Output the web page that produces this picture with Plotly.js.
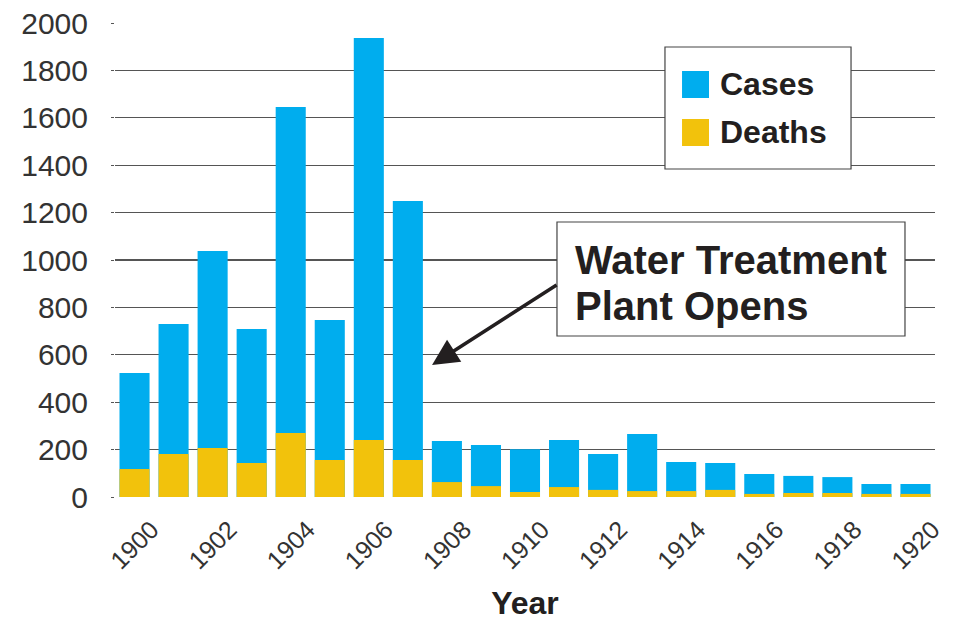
<!DOCTYPE html>
<html>
<head>
<meta charset="utf-8">
<script src="https://cdn.plot.ly/plotly-3.0.1.min.js"></script>
<style>html,body{margin:0;padding:0;background:#fff;}#chart{width:956px;height:621px;}</style>
</head>
<body>
<div id="chart"></div>
<script>
const years = [1900,1901,1902,1903,1904,1905,1906,1907,1908,1909,1910,1911,1912,1913,1914,1915,1916,1917,1918,1919,1920];
const cases = [523,730,1038,709,1646,747,1937,1249,236,219,202,240,181,266,148,143,97,89,84,55,55];
const deaths = [118,181,207,143,270,156,240,156,63,46,21,42,30,25,25,30,13,17,17,13,13];
const tickYears = [1900,1902,1904,1906,1908,1910,1912,1914,1916,1918,1920];
const legendLabels = ['Cases','Deaths'];
const noteLines = ['Water Treatment','Plant Opens'];
const noteTarget = {year: 1907.62, value: 557};

const cCases = '#00ADEE';
const cDeaths = '#F2C20C';
const ink = '#231F20';
const fontFam = '"Liberation Sans", Arial, Helvetica, sans-serif';

const traces = [
  {type:'bar', x: years, y: cases, name: legendLabels[0], marker:{color:cCases}, width:0.77, hoverinfo:'x+y'},
  {type:'bar', x: years, y: deaths, name: legendLabels[1], marker:{color:cDeaths}, width:0.77, hoverinfo:'x+y'}
];

const layout = {
  width:956, height:621,
  margin:{l:115, r:21, t:23, b:124},
  paper_bgcolor:'#fff', plot_bgcolor:'#fff',
  barmode:'overlay',
  showlegend:false,
  font:{family:fontFam, color:ink},
  xaxis:{
    range:[1899.5,1920.5],
    tickvals: tickYears,
    ticktext: tickYears.map(String),
    tickangle:-45,
    tickfont:{size:25, color:'#333'},
    ticklabelshift:17,
    ticklabelstandoff:12,
    showgrid:false, zeroline:false, showline:false, ticks:'',
    title:{text:'<b>Year</b>', font:{size:32, color:ink}, standoff:22}
  },
  yaxis:{
    range:[0,2000],
    tickvals:[0,200,400,600,800,1000,1200,1400,1600,1800,2000],
    tickfont:{size:30, color:'#333'},
    showgrid:true, gridcolor:'#555', gridwidth:1.2,
    zeroline:false, showline:false,
    ticks:'outside', ticklen:3, tickcolor:'#555',
    ticklabelstandoff:17
  },
  shapes:[
    {type:'rect', xref:'paper', yref:'paper', x0:0.6707, x1:0.8976, y0:0.692, y1:0.9494, line:{color:'#444', width:1.2}, fillcolor:'#fff', layer:'above'},
    {type:'rect', xref:'paper', yref:'paper', x0:0.6915, x1:0.7244, y0:0.8418, y1:0.8987, line:{width:0}, fillcolor:cCases, layer:'above'},
    {type:'rect', xref:'paper', yref:'paper', x0:0.6915, x1:0.7244, y0:0.7405, y1:0.7975, line:{width:0}, fillcolor:cDeaths, layer:'above'},
    {type:'rect', xref:'paper', yref:'paper', x0:0.539, x1:0.9634, y0:0.3397, y1:0.5802, line:{color:'#444', width:1.2}, fillcolor:'#fff', layer:'above'}
  ],
  annotations:[
    {xref:'paper', yref:'paper', x:0.7354, y:0.8703, xanchor:'left', yanchor:'middle', text:'<b>'+legendLabels[0]+'</b>', showarrow:false, font:{size:32, color:ink}},
    {xref:'paper', yref:'paper', x:0.7354, y:0.769, xanchor:'left', yanchor:'middle', text:'<b>'+legendLabels[1]+'</b>', showarrow:false, font:{size:32, color:ink}},
    {xref:'paper', yref:'paper', x:0.5585, y:0.5, xanchor:'left', yanchor:'middle', align:'left', text:'<b>'+noteLines[0]+'</b>', showarrow:false, font:{size:40, color:ink}},
    {xref:'paper', yref:'paper', x:0.5585, y:0.403, xanchor:'left', yanchor:'middle', align:'left', text:'<b>'+noteLines[1]+'</b>', showarrow:false, font:{size:40, color:ink}},
    {xref:'x', yref:'y', x:noteTarget.year, y:noteTarget.value, text:'', showarrow:true, arrowhead:2, arrowsize:1.5, arrowwidth:3.5, arrowcolor:ink, ax:126, ay:-81}
  ]
};

Plotly.newPlot('chart', traces, layout, {displayModeBar:false, staticPlot:true});
</script>
</body>
</html>
